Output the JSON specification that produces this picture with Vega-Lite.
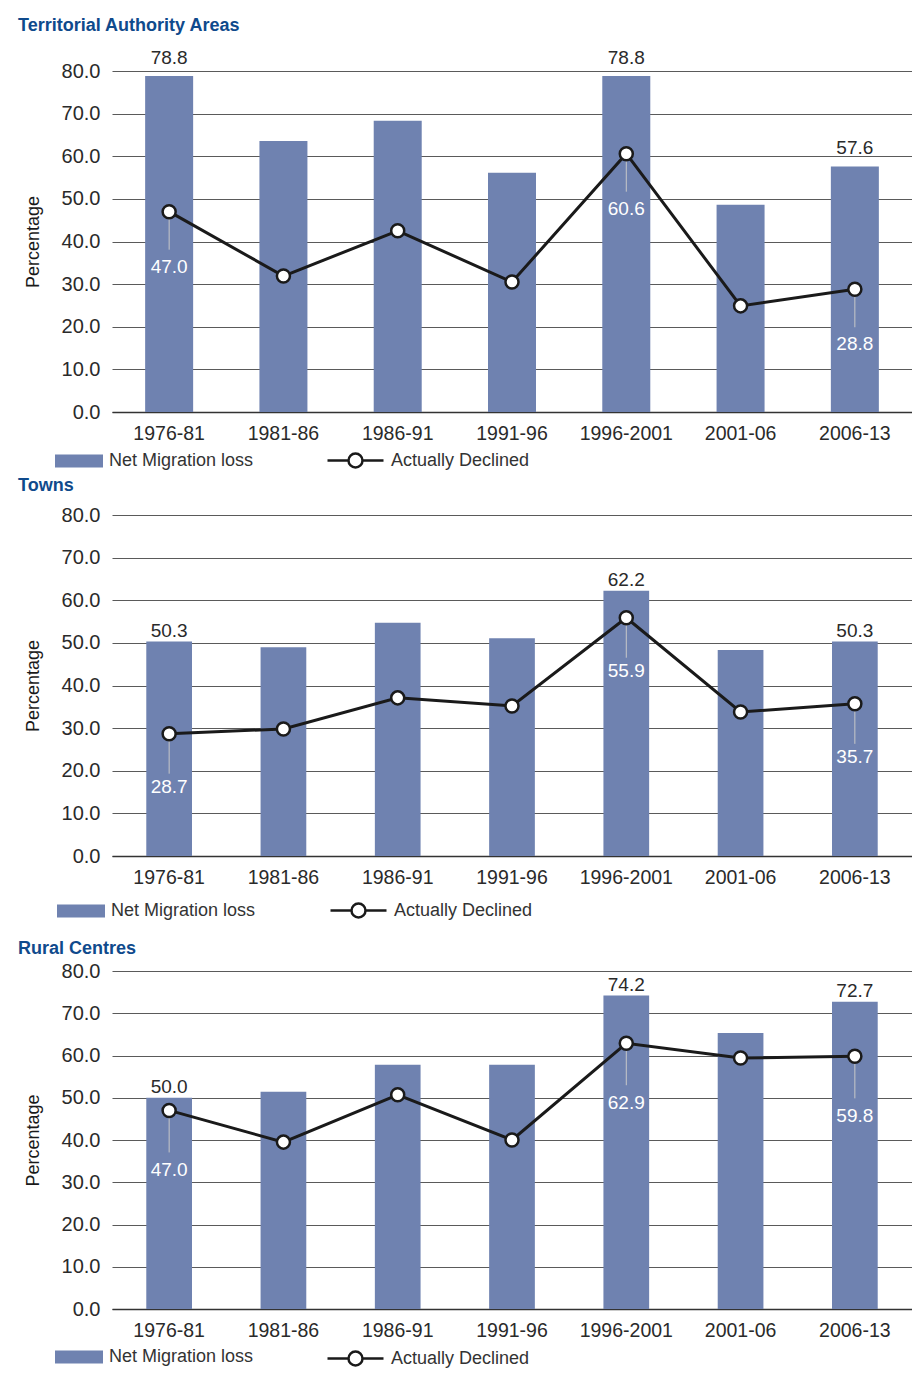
{
  "$schema": "https://vega.github.io/schema/vega-lite/v6.json",
  "padding": {"left": 18, "top": 17, "right": 0, "bottom": 0},
  "background": "white",
  "datasets": {
    "ta": [
      {"period": "1976-81", "net": 78.8, "declined": 47.0},
      {"period": "1981-86", "net": 63.6, "declined": 31.9},
      {"period": "1986-91", "net": 68.3, "declined": 42.5},
      {"period": "1991-96", "net": 56.1, "declined": 30.5},
      {"period": "1996-2001", "net": 78.8, "declined": 60.6},
      {"period": "2001-06", "net": 48.6, "declined": 24.9},
      {"period": "2006-13", "net": 57.6, "declined": 28.8}
    ],
    "towns": [
      {"period": "1976-81", "net": 50.3, "declined": 28.7},
      {"period": "1981-86", "net": 49.0, "declined": 29.8},
      {"period": "1986-91", "net": 54.7, "declined": 37.1},
      {"period": "1991-96", "net": 51.1, "declined": 35.2},
      {"period": "1996-2001", "net": 62.2, "declined": 55.9},
      {"period": "2001-06", "net": 48.3, "declined": 33.8},
      {"period": "2006-13", "net": 50.3, "declined": 35.7}
    ],
    "rural": [
      {"period": "1976-81", "net": 50.0, "declined": 47.0},
      {"period": "1981-86", "net": 51.4, "declined": 39.5},
      {"period": "1986-91", "net": 57.8, "declined": 50.7},
      {"period": "1991-96", "net": 57.8, "declined": 40.0},
      {"period": "1996-2001", "net": 74.2, "declined": 62.9},
      {"period": "2001-06", "net": 65.3, "declined": 59.4},
      {"period": "2006-13", "net": 72.7, "declined": 59.8}
    ]
  },
  "spacing": 4,
  "resolve": {"scale": {"fill": "independent", "stroke": "independent"}},
  "vconcat": [
    {
      "title": {"text": "Territorial Authority Areas", "offset": 14},
      "width": 800,
      "height": 341,
      "data": {"name": "ta"},
      "layer": [
        {
          "mark": {"type": "bar"},
          "encoding": {
            "x": {"field": "period", "type": "nominal", "sort": null, "title": null, "scale": {"paddingInner": 0.58, "paddingOuter": 0.29}},
            "y": {"field": "net", "type": "quantitative", "title": "Percentage", "scale": {"domain": [0, 80]}},
            "fill": {"datum": "Net Migration loss", "type": "nominal", "scale": {"range": ["#6f82b0"]},
              "legend": {"orient": "none", "legendX": -57, "legendY": 366, "title": null, "symbolType": "M-1,-0.27H1V0.27H-1Z", "symbolSize": 2304, "symbolStrokeWidth": 0}}
          }
        },
        {
          "transform": [{"filter": {"field": "period", "oneOf": ["1976-81", "1996-2001", "2006-13"]}}],
          "mark": {"type": "rule", "color": "#c8c8c8", "strokeWidth": 1, "y2Offset": 38},
          "encoding": {
            "x": {"field": "period", "type": "nominal", "sort": null},
            "y": {"field": "declined", "type": "quantitative", "title": "Percentage"},
            "y2": {"field": "declined"}
          }
        },
        {
          "mark": {"type": "line", "strokeWidth": 3},
          "encoding": {
            "x": {"field": "period", "type": "nominal", "sort": null},
            "y": {"field": "declined", "type": "quantitative", "title": "Percentage"},
            "stroke": {"datum": "Actually Declined", "type": "nominal", "scale": {"range": ["#1a1a1a"]},
              "legend": {"orient": "none", "legendX": 214, "legendY": 360, "title": null, "symbolType": "M-1,0H-0.25M0.25,0H1M-0.25,0A0.25,0.25 0 1,1 0.25,0A0.25,0.25 0 1,1 -0.25,0", "symbolSize": 3136, "symbolStrokeWidth": 2.5, "symbolFillColor": "white"}}
          }
        },
        {
          "mark": {"type": "point", "filled": true, "fill": "white", "stroke": "#1a1a1a", "strokeWidth": 2.5, "size": 170, "opacity": 1},
          "encoding": {
            "x": {"field": "period", "type": "nominal", "sort": null},
            "y": {"field": "declined", "type": "quantitative", "title": "Percentage"}
          }
        },
        {
          "transform": [{"filter": {"field": "period", "oneOf": ["1976-81", "1996-2001", "2006-13"]}}],
          "mark": {"type": "text", "color": "white", "fontSize": 19, "baseline": "middle", "dy": 55},
          "encoding": {
            "x": {"field": "period", "type": "nominal", "sort": null},
            "y": {"field": "declined", "type": "quantitative", "title": "Percentage"},
            "text": {"field": "declined", "type": "quantitative", "format": ".1f"}
          }
        },
        {
          "transform": [{"filter": {"field": "period", "oneOf": ["1976-81", "1996-2001", "2006-13"]}}],
          "mark": {"type": "text", "color": "#2a2a2a", "fontSize": 19, "baseline": "alphabetic", "dy": -12},
          "encoding": {
            "x": {"field": "period", "type": "nominal", "sort": null},
            "y": {"field": "net", "type": "quantitative", "title": "Percentage"},
            "text": {"field": "net", "type": "quantitative", "format": ".1f"}
          }
        }
      ]
    },
    {
      "spacing": 17,
      "resolve": {"scale": {"fill": "independent", "stroke": "independent"}},
      "vconcat": [
        {
          "title": {"text": "Towns", "offset": 10},
          "width": 800,
          "height": 341,
          "data": {"name": "towns"},
          "layer": [
            {
              "mark": {"type": "bar"},
              "encoding": {
                "x": {"field": "period", "type": "nominal", "sort": null, "title": null, "scale": {"paddingInner": 0.6, "paddingOuter": 0.3}},
                "y": {"field": "net", "type": "quantitative", "title": "Percentage", "scale": {"domain": [0, 80]}},
                "fill": {"datum": "Net Migration loss", "type": "nominal", "scale": {"range": ["#6f82b0"]},
                  "legend": {"orient": "none", "legendX": -55, "legendY": 372, "title": null, "symbolType": "M-1,-0.27H1V0.27H-1Z", "symbolSize": 2304, "symbolStrokeWidth": 0}}
              }
            },
            {
              "transform": [{"filter": {"field": "period", "oneOf": ["1976-81", "1996-2001", "2006-13"]}}],
              "mark": {"type": "rule", "color": "#c8c8c8", "strokeWidth": 1, "y2Offset": 40},
              "encoding": {
                "x": {"field": "period", "type": "nominal", "sort": null},
                "y": {"field": "declined", "type": "quantitative", "title": "Percentage"},
                "y2": {"field": "declined"}
              }
            },
            {
              "mark": {"type": "line", "strokeWidth": 3},
              "encoding": {
                "x": {"field": "period", "type": "nominal", "sort": null},
                "y": {"field": "declined", "type": "quantitative", "title": "Percentage"},
                "stroke": {"datum": "Actually Declined", "type": "nominal", "scale": {"range": ["#1a1a1a"]},
                  "legend": {"orient": "none", "legendX": 217, "legendY": 366, "title": null, "symbolType": "M-1,0H-0.25M0.25,0H1M-0.25,0A0.25,0.25 0 1,1 0.25,0A0.25,0.25 0 1,1 -0.25,0", "symbolSize": 3136, "symbolStrokeWidth": 2.5, "symbolFillColor": "white"}}
              }
            },
            {
              "mark": {"type": "point", "filled": true, "fill": "white", "stroke": "#1a1a1a", "strokeWidth": 2.5, "size": 170, "opacity": 1},
              "encoding": {
                "x": {"field": "period", "type": "nominal", "sort": null},
                "y": {"field": "declined", "type": "quantitative", "title": "Percentage"}
              }
            },
            {
              "transform": [{"filter": {"field": "period", "oneOf": ["1976-81", "1996-2001", "2006-13"]}}],
              "mark": {"type": "text", "color": "white", "fontSize": 19, "baseline": "middle", "dy": 53},
              "encoding": {
                "x": {"field": "period", "type": "nominal", "sort": null},
                "y": {"field": "declined", "type": "quantitative", "title": "Percentage"},
                "text": {"field": "declined", "type": "quantitative", "format": ".1f"}
              }
            },
            {
              "transform": [{"filter": {"field": "period", "oneOf": ["1976-81", "1996-2001", "2006-13"]}}],
              "mark": {"type": "text", "color": "#2a2a2a", "fontSize": 19, "baseline": "alphabetic", "dy": -5},
              "encoding": {
                "x": {"field": "period", "type": "nominal", "sort": null},
                "y": {"field": "net", "type": "quantitative", "title": "Percentage"},
                "text": {"field": "net", "type": "quantitative", "format": ".1f"}
              }
            }
          ]
        },
        {
          "title": {"text": "Rural Centres", "offset": 3},
          "width": 800,
          "height": 338,
          "data": {"name": "rural"},
          "layer": [
            {
              "mark": {"type": "bar"},
              "encoding": {
                "x": {"field": "period", "type": "nominal", "sort": null, "title": null, "scale": {"paddingInner": 0.6, "paddingOuter": 0.3}},
                "y": {"field": "net", "type": "quantitative", "title": "Percentage", "scale": {"domain": [0, 80]}},
                "fill": {"datum": "Net Migration loss", "type": "nominal", "scale": {"range": ["#6f82b0"]},
                  "legend": {"orient": "none", "legendX": -57, "legendY": 362, "title": null, "symbolType": "M-1,-0.27H1V0.27H-1Z", "symbolSize": 2304, "symbolStrokeWidth": 0}}
              }
            },
            {
              "transform": [{"filter": {"field": "period", "oneOf": ["1976-81", "1996-2001", "2006-13"]}}],
              "mark": {"type": "rule", "color": "#c8c8c8", "strokeWidth": 1, "y2Offset": 42},
              "encoding": {
                "x": {"field": "period", "type": "nominal", "sort": null},
                "y": {"field": "declined", "type": "quantitative", "title": "Percentage"},
                "y2": {"field": "declined"}
              }
            },
            {
              "mark": {"type": "line", "strokeWidth": 3},
              "encoding": {
                "x": {"field": "period", "type": "nominal", "sort": null},
                "y": {"field": "declined", "type": "quantitative", "title": "Percentage"},
                "stroke": {"datum": "Actually Declined", "type": "nominal", "scale": {"range": ["#1a1a1a"]},
                  "legend": {"orient": "none", "legendX": 214, "legendY": 358, "title": null, "symbolType": "M-1,0H-0.25M0.25,0H1M-0.25,0A0.25,0.25 0 1,1 0.25,0A0.25,0.25 0 1,1 -0.25,0", "symbolSize": 3136, "symbolStrokeWidth": 2.5, "symbolFillColor": "white"}}
              }
            },
            {
              "mark": {"type": "point", "filled": true, "fill": "white", "stroke": "#1a1a1a", "strokeWidth": 2.5, "size": 170, "opacity": 1},
              "encoding": {
                "x": {"field": "period", "type": "nominal", "sort": null},
                "y": {"field": "declined", "type": "quantitative", "title": "Percentage"}
              }
            },
            {
              "transform": [{"filter": {"field": "period", "oneOf": ["1976-81", "1996-2001", "2006-13"]}}],
              "mark": {"type": "text", "color": "white", "fontSize": 19, "baseline": "middle", "dy": 60},
              "encoding": {
                "x": {"field": "period", "type": "nominal", "sort": null},
                "y": {"field": "declined", "type": "quantitative", "title": "Percentage"},
                "text": {"field": "declined", "type": "quantitative", "format": ".1f"}
              }
            },
            {
              "transform": [{"filter": {"field": "period", "oneOf": ["1976-81", "1996-2001", "2006-13"]}}],
              "mark": {"type": "text", "color": "#2a2a2a", "fontSize": 19, "baseline": "alphabetic", "dy": -5},
              "encoding": {
                "x": {"field": "period", "type": "nominal", "sort": null},
                "y": {"field": "net", "type": "quantitative", "title": "Percentage"},
                "text": {"field": "net", "type": "quantitative", "format": ".1f"}
              }
            }
          ]
        }
      ]
    }
  ],
  "config": {
    "font": "Liberation Sans",
    "view": {"stroke": null},
    "title": {"anchor": "start", "frame": "bounds", "fontSize": 18, "fontWeight": "bold", "color": "#0f4a8c", "font": "Liberation Sans", "dx": -6},
    "axis": {"labelFont": "Liberation Sans", "titleFont": "Liberation Sans", "labelColor": "#2a2a2a", "titleColor": "#1a1a1a", "ticks": false, "domain": false},
    "axisY": {"grid": true, "gridColor": "#5a5a5a", "gridWidth": 1.2, "labelFontSize": 20, "labelPadding": 12, "tickCount": 8, "format": ".1f", "titleFontSize": 18, "titleFontWeight": "normal", "titlePadding": 19},
    "axisX": {"grid": false, "labelAngle": 0, "labelFontSize": 19.5, "labelPadding": 12, "domain": true, "domainColor": "#333", "domainWidth": 1.5},
    "legend": {"labelFont": "Liberation Sans", "labelFontSize": 18, "labelColor": "#333", "labelOffset": 6, "padding": 0}
  }
}
